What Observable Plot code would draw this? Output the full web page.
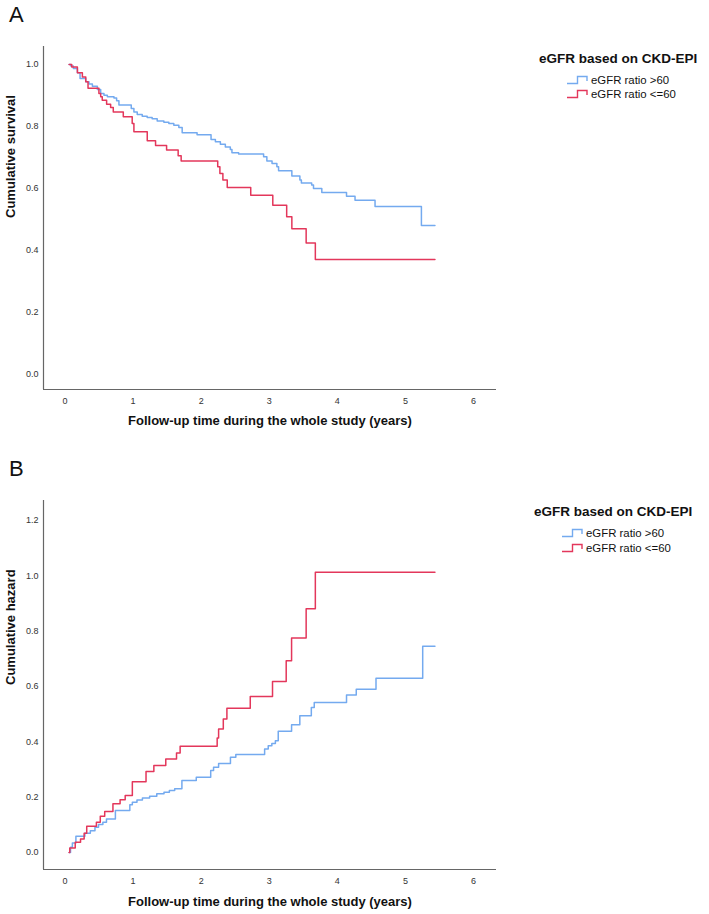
<!DOCTYPE html>
<html>
<head>
<meta charset="utf-8">
<script src="https://cdn.jsdelivr.net/npm/d3@7"></script>
<script src="https://cdn.jsdelivr.net/npm/@observablehq/plot@0.6"></script>
<style>
  body { margin: 0; background: #fff; font-family: "Liberation Sans", Arial, sans-serif; }
  #wrap { position: relative; width: 709px; height: 914px; overflow: hidden; }
  .panel { position: absolute; left: 0; }
  .letter { position: absolute; font-size: 22px; color: #111; line-height: 1; }
  .legend { position: absolute; color: #111; }
  .legend .title { font-weight: bold; font-size: 13.5px; white-space: nowrap; }
  .legend .item { position: absolute; font-size: 11.4px; white-space: nowrap; display: flex; align-items: center; }
  .legend .item svg { margin-right: 3px; }
</style>
</head>
<body>
<div id="wrap"></div>
<script>
// ---------- data ----------
const seriesNames = ["eGFR ratio >60", "eGFR ratio <=60"];
const seriesColors = ["#74aaef", "#e3375b"];
const legendTitle = "eGFR based on CKD-EPI";
const xLabel = "Follow-up time during the whole study (years)";
const survLabel = "Cumulative survival";
const hazLabel = "Cumulative hazard";
const xTicks = [0, 1, 2, 3, 4, 5, 6];
const survTicks = [0, 0.2, 0.4, 0.6, 0.8, 1.0];
const hazTicks = [0, 0.2, 0.4, 0.6, 0.8, 1.0, 1.2];

// Panel A: survival, eGFR > 60
const survHighTime = [0.06, 0.084, 0.123, 0.182, 0.221, 0.304, 0.352, 0.402, 0.475, 0.524, 0.572, 0.622, 0.719, 0.758, 0.792, 0.973, 1.012, 1.061, 1.134, 1.207, 1.280, 1.354, 1.452, 1.525, 1.598, 1.672, 1.721, 1.940, 2.145, 2.209, 2.282, 2.355, 2.428, 2.452, 2.550, 2.917, 2.965, 3.041, 3.112, 3.137, 3.332, 3.450, 3.472, 3.623, 3.650, 3.772, 4.135, 4.260, 4.554, 5.235, 5.434];
const survHighValue = [1.0, 0.995, 0.987, 0.973, 0.955, 0.944, 0.937, 0.930, 0.919, 0.906, 0.901, 0.896, 0.892, 0.883, 0.869, 0.858, 0.847, 0.839, 0.833, 0.829, 0.825, 0.818, 0.814, 0.810, 0.804, 0.797, 0.780, 0.773, 0.758, 0.751, 0.743, 0.734, 0.726, 0.715, 0.711, 0.702, 0.689, 0.681, 0.670, 0.657, 0.640, 0.627, 0.618, 0.611, 0.600, 0.587, 0.575, 0.562, 0.542, 0.481, 0.481];
// Panel A: survival, eGFR <= 60
const survLowTime = [0.06, 0.099, 0.182, 0.255, 0.305, 0.338, 0.498, 0.524, 0.547, 0.611, 0.670, 0.709, 0.856, 0.987, 1.012, 1.208, 1.330, 1.492, 1.662, 1.706, 2.243, 2.275, 2.319, 2.383, 2.728, 3.052, 3.256, 3.332, 3.542, 3.677, 5.434];
const survLowValue = [1.0, 0.992, 0.973, 0.960, 0.944, 0.923, 0.906, 0.896, 0.885, 0.872, 0.861, 0.847, 0.831, 0.810, 0.783, 0.754, 0.739, 0.724, 0.706, 0.689, 0.670, 0.648, 0.627, 0.603, 0.578, 0.546, 0.509, 0.470, 0.424, 0.371, 0.371];
// Panel B: cumulative hazard, eGFR > 60
const hazHighTime = [0.06, 0.081, 0.108, 0.160, 0.292, 0.372, 0.440, 0.492, 0.556, 0.609, 0.740, 0.952, 0.989, 1.057, 1.137, 1.243, 1.348, 1.454, 1.533, 1.611, 1.717, 1.928, 2.140, 2.182, 2.256, 2.430, 2.509, 2.932, 2.985, 3.038, 3.090, 3.132, 3.328, 3.449, 3.618, 3.661, 4.135, 4.278, 4.568, 5.254, 5.434];
const hazHighValue = [0, 0.019, 0.034, 0.059, 0.070, 0.079, 0.091, 0.101, 0.109, 0.121, 0.152, 0.173, 0.182, 0.190, 0.197, 0.203, 0.212, 0.218, 0.224, 0.230, 0.260, 0.272, 0.296, 0.308, 0.322, 0.344, 0.354, 0.374, 0.386, 0.394, 0.404, 0.438, 0.462, 0.494, 0.524, 0.542, 0.569, 0.590, 0.630, 0.745, 0.745];
// Panel B: cumulative hazard, eGFR <= 60
const hazLowTime = [0.06, 0.07, 0.150, 0.228, 0.281, 0.319, 0.461, 0.518, 0.583, 0.704, 0.809, 0.884, 0.989, 1.190, 1.305, 1.480, 1.638, 1.691, 2.235, 2.256, 2.325, 2.378, 2.721, 3.048, 3.249, 3.328, 3.542, 3.677, 5.434];
const hazLowValue = [0, 0.016, 0.037, 0.049, 0.070, 0.095, 0.109, 0.131, 0.148, 0.176, 0.191, 0.206, 0.256, 0.293, 0.314, 0.338, 0.360, 0.384, 0.414, 0.446, 0.482, 0.521, 0.564, 0.618, 0.693, 0.775, 0.881, 1.013, 1.013];

// ---------- build ----------
const toRows = (times, values, name) => times.map((t, i) => ({t, v: values[i], group: name}));
const survRows = [
  ...toRows(survHighTime, survHighValue, seriesNames[0]),
  ...toRows(survLowTime, survLowValue, seriesNames[1])
];
const hazRows = [
  ...toRows(hazHighTime, hazHighValue, seriesNames[0]),
  ...toRows(hazLowTime, hazLowValue, seriesNames[1])
];

const xDomain = [-0.316, 6.338];
const font = "'Liberation Sans', Arial, sans-serif";

function panel({rows, yDomain, yTicks, yLabel, height, marginTop, marginBottom, labelDy}) {
  return Plot.plot({
    width: 709,
    height,
    marginLeft: 43,
    marginRight: 213,
    marginTop,
    marginBottom,
    style: {fontFamily: font, fontSize: "9px", color: "#222", background: "white", overflow: "visible"},
    x: {domain: xDomain},
    y: {domain: yDomain},
    color: {domain: seriesNames, range: seriesColors},
    marks: [
      Plot.axisX(xTicks, {tickSize: 0, tickPadding: 8, fill: "#333", fontSize: 9, label: null, tickFormat: d3.format("d")}),
      Plot.axisY(yTicks, {tickSize: 0, tickPadding: 5, fill: "#333", fontSize: 9, label: null, tickFormat: d3.format(".1f")}),
      Plot.ruleY([yDomain[0]], {stroke: "#666", strokeWidth: 1.2}),
      Plot.ruleX([xDomain[0]], {stroke: "#666", strokeWidth: 1.2}),
      Plot.line(rows, {x: "t", y: "v", z: "group", stroke: "group", curve: "step-after", strokeWidth: 1.5}),
      Plot.text([xLabel], {frameAnchor: "bottom", dy: labelDy, text: d => d, fontWeight: "bold", fontSize: 13, fill: "#111"}),
      Plot.text([yLabel], {frameAnchor: "left", dx: -33, rotate: -90, text: d => d, fontWeight: "bold", fontSize: 13, fill: "#111"})
    ]
  });
}

const wrap = document.getElementById("wrap");

function addPanel(svg, top) {
  svg.classList.add("panel");
  svg.style.top = top + "px";
  wrap.appendChild(svg);
}

addPanel(panel({rows: survRows, yDomain: [-0.0484, 1.058], yTicks: survTicks, yLabel: survLabel, height: 440, marginTop: 46, marginBottom: 51, labelDy: 35}), 0);
addPanel(panel({rows: hazRows, yDomain: [-0.0614, 1.272], yTicks: hazTicks, yLabel: hazLabel, height: 474, marginTop: 60, marginBottom: 45, labelDy: 36}), 440);

function addLetter(text, left, top) {
  const d = document.createElement("div");
  d.className = "letter";
  d.textContent = text;
  d.style.left = left + "px";
  d.style.top = top + "px";
  wrap.appendChild(d);
}
addLetter("A", 9, 4);
addLetter("B", 9, 458);

function addLegend(titleLeft, titleTop, itemLeft, itemTops) {
  const lg = document.createElement("div");
  lg.className = "legend";
  lg.style.left = "0px";
  lg.style.top = "0px";
  const t = document.createElement("div");
  t.className = "title";
  t.textContent = legendTitle;
  t.style.position = "absolute";
  t.style.left = titleLeft + "px";
  t.style.top = titleTop + "px";
  lg.appendChild(t);
  seriesNames.forEach((name, i) => {
    const it = document.createElement("div");
    it.className = "item";
    it.style.left = itemLeft + "px";
    it.style.top = itemTops[i] + "px";
    it.innerHTML = `<svg width="21" height="10"><path d="M0,8.5H10.5V1.5H20V6" fill="none" stroke="${seriesColors[i]}" stroke-width="1.4"/></svg><span>${name.replace("<", "&lt;").replace(">", "&gt;")}</span>`;
    lg.appendChild(it);
  });
  wrap.appendChild(lg);
}
addLegend(539, 51, 567, [74, 88]);
addLegend(534, 504, 562, [527, 542]);
</script>
</body>
</html>
